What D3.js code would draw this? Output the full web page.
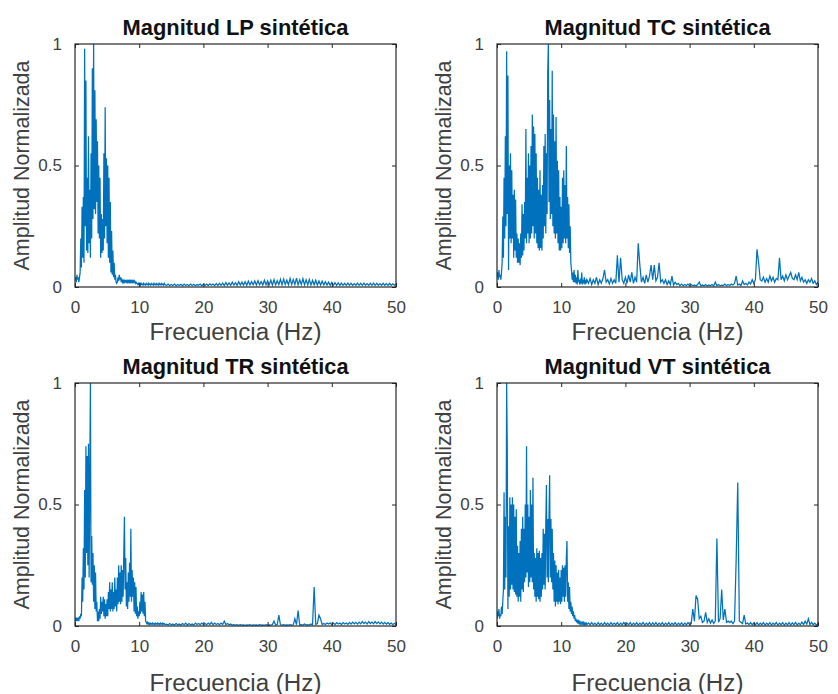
<!DOCTYPE html>
<html><head><meta charset="utf-8">
<script src="https://cdn.jsdelivr.net/npm/d3@7"></script>
<style>
body{margin:0;background:#fff;}
svg{display:block;}
text{font-family:"Liberation Sans",Arial,Helvetica,sans-serif;}
</style>
</head><body>
<svg id="c" width="838" height="694"></svg>
<script>
// ---------- data ----------
const DENSE_STEP = 0.1;   // Hz, samples 0..14 Hz
const DENSE_END = 14;
const TAIL_STEP = 0.25;   // Hz, samples 14.25..50 Hz
const xTicks = [0, 10, 20, 30, 40, 50];
const yTicks = [0, 0.5, 1];
const yTickLabels = ["0", "0.5", "1"];
const titles = ["Magnitud LP sintética", "Magnitud TC sintética", "Magnitud TR sintética", "Magnitud VT sintética"];
const xLabel = "Frecuencia (Hz)";
const yLabel = "Amplitud Normalizada";

const lpDense = [
 .03,.04,.02,.05,.03,.04,.02,.04,.06,.20,
 .08,.33,.12,.37,.10,.98,.25,.85,.15,.45,
 .14,.62,.18,.40,.12,.55,.20,.90,.28,1.0,
 .32,.81,.30,.69,.35,.60,.22,.50,.20,.45,
 .12,.30,.14,.28,.15,.55,.20,.74,.25,.53,
 .18,.50,.12,.45,.10,.35,.06,.23,.05,.15,
 .04,.10,.03,.05,.02,.015,.02,.04,.025,.05,
 .03,.04,.02,.03,.02,.03,.015,.03,.02,.025,
 .02,.03,.015,.025,.02,.03,.015,.025,.02,.03,
 .015,.025,.02,.025,.015,.02,.015,.015,.01,.015,
 .01,.015,.008,.015,.01,.012,.008,.015,.01,.012,
 .008,.014,.01,.012,.008,.015,.01,.012,.008,.014,
 .01,.012,.008,.015,.01,.012,.008,.014,.01,.012,
 .008,.015,.01,.012,.008,.014,.01,.012,.008,.015,
 .01];
const lpTail = [
 .006,.012,.005,.01,.006,.012,.005,.01,
 .006,.011,.005,.012,.006,.01,.005,.012,
 .006,.011,.005,.01,.007,.012,.005,.011,
 .006,.012,.006,.013,.007,.012,.006,.014,
 .006,.015,.007,.016,.006,.018,.007,.017,
 .007,.02,.008,.018,.007,.022,.008,.02,
 .008,.022,.007,.024,.008,.022,.009,.025,
 .008,.026,.009,.022,.008,.028,.009,.025,
 .009,.028,.008,.03,.009,.026,.01,.032,
 .009,.033,.01,.028,.009,.035,.01,.031,
 .01,.036,.009,.03,.01,.034,.009,.03,
 .009,.031,.008,.027,.009,.028,.008,.025,
 .008,.024,.008,.022,.008,.02,.007,.019,
 .007,.018,.007,.017,.007,.016,.007,.015,
 .007,.016,.007,.015,.007,.014,.007,.016,
 .007,.015,.007,.016,.007,.014,.007,.015,
 .007,.016,.007,.015,.007,.014,.007,.015,
 .007,.014,.007,.015,.007,.013,.007,.012];

const tcDense = [
 .04,.06,.03,.07,.04,.05,.03,.06,.10,.29,
 .12,.45,.20,.62,.25,.97,.30,.87,.07,.50,
 .20,.55,.18,.48,.20,.38,.12,.40,.15,.36,
 .12,.22,.10,.20,.10,.18,.09,.22,.12,.34,
 .13,.30,.15,.35,.20,.65,.18,.45,.22,.55,
 .18,.50,.20,.58,.22,.71,.25,.66,.20,.63,
 .22,.55,.18,.45,.16,.40,.15,.48,.16,.38,
 .15,.42,.20,.58,.25,.63,.22,.55,.30,.88,
 1.0,.35,.77,.28,.65,.30,.89,.25,.71,.22,
 .60,.20,.70,.22,.52,.18,.48,.15,.37,.15,
 .33,.16,.45,.18,.48,.20,.42,.18,.58,.20,
 .37,.16,.34,.14,.25,.10,.07,.03,.06,.02,
 .07,.02,.05,.015,.04,.01,.07,.02,.03,.01,
 .035,.015,.06,.01,.03,.015,.04,.01,.03,.015,
 .03];
const tcTail = [
 .015,.035,.01,.03,.015,.04,.01,.03,
 .015,.035,.07,.02,.03,.012,.035,.015,
 .03,.015,.13,.02,.12,.03,.015,.04,
 .015,.05,.02,.06,.015,.04,.02,.18,
 .09,.02,.04,.015,.05,.02,.045,.09,
 .03,.09,.025,.04,.10,.02,.03,.015,
 .03,.01,.025,.01,.045,.008,.02,.01,
 .015,.006,.012,.005,.01,.006,.012,.005,
 .01,.005,.008,.004,.01,.02,.005,.008,
 .005,.01,.004,.008,.005,.01,.004,.02,
 .005,.01,.005,.008,.006,.012,.005,.01,
 .006,.012,.008,.015,.045,.008,.012,.006,
 .025,.01,.015,.008,.02,.012,.03,.015,
 .03,.155,.10,.03,.025,.04,.02,.035,
 .02,.045,.025,.04,.02,.035,.03,.12,
 .03,.045,.025,.05,.03,.045,.06,.035,
 .03,.05,.03,.06,.025,.04,.02,.03,
 .015,.03,.02,.035,.015,.025,.01,.02];

const trDense = [
 .02,.035,.02,.03,.025,.035,.02,.04,.03,.05,
 .04,.20,.10,.32,.15,.56,.20,.74,.30,.70,
 .25,.75,.20,.62,1.0,.18,.37,.17,.30,.10,
 .25,.07,.22,.06,.10,.02,.06,.02,.07,.03,
 .12,.05,.10,.06,.12,.04,.11,.03,.09,.04,
 .11,.04,.14,.07,.18,.06,.15,.07,.18,.06,
 .14,.07,.20,.08,.15,.06,.20,.09,.25,.10,
 .22,.09,.25,.10,.23,.12,.30,.45,.15,.28,
 .08,.18,.07,.22,.10,.26,.12,.40,.10,.23,
 .12,.20,.06,.18,.05,.16,.04,.08,.03,.06,
 .04,.10,.05,.14,.06,.13,.05,.14,.04,.10,
 .02,.015,.01,.015,.008,.012,.006,.012,.008,.01,
 .006,.012,.008,.01,.006,.012,.008,.01,.006,.012,
 .008,.01,.006,.012,.008,.01,.006,.012,.008,.01,
 .006];
const trTail = [
 .008,.004,.01,.005,.008,.004,.01,.005,
 .008,.004,.01,.005,.012,.004,.01,.005,
 .008,.004,.012,.006,.01,.005,.012,.006,
 .01,.005,.012,.006,.015,.005,.012,.006,
 .01,.005,.012,.006,.02,.006,.01,.005,
 .008,.004,.006,.004,.006,.003,.006,.004,
 .005,.003,.005,.004,.006,.003,.005,.004,
 .005,.003,.006,.004,.005,.003,.006,.004,
 .005,.004,.006,.02,.004,.006,.045,.005,
 .004,.006,.004,.005,.004,.006,.004,.005,
 .03,.005,.063,.004,.006,.004,.008,.004,
 .006,.004,.008,.005,.16,.006,.01,.045,
 .03,.006,.01,.006,.012,.008,.012,.006,
 .012,.006,.014,.008,.012,.006,.014,.008,
 .012,.007,.015,.008,.016,.009,.015,.008,
 .016,.009,.018,.01,.016,.008,.018,.01,
 .016,.009,.018,.01,.017,.009,.016,.008,
 .015,.008,.014,.007,.012,.006,.01,.006];

const vtDense = [
 .03,.06,.04,.07,.03,.05,.04,.08,.05,.10,
 .15,.55,.15,.45,.20,1.0,.73,.07,.41,.12,
 .53,.15,.50,.17,.53,.15,.50,.14,.45,.13,
 .48,.12,.33,.10,.30,.12,.35,.10,.40,.15,
 .45,.14,.40,.18,.50,.20,.74,.22,.50,.16,
 .45,.18,.56,.20,.50,.18,.61,.15,.30,.12,
 .28,.10,.32,.12,.30,.11,.31,.10,.28,.12,
 .30,.15,.40,.17,.38,.15,.42,.58,.20,.44,
 .18,.45,.62,.20,.44,.18,.40,.15,.30,.10,
 .27,.08,.25,.10,.22,.09,.23,.10,.20,.09,
 .23,.10,.25,.12,.24,.10,.25,.12,.28,.35,
 .10,.18,.07,.16,.06,.10,.05,.08,.04,.06,
 .03,.045,.02,.03,.015,.025,.01,.02,.01,.018,
 .008,.015,.008,.014,.006,.014,.006,.012,.006,.012,
 .006];
const vtTail = [
 .012,.005,.014,.005,.012,.004,.014,.005,
 .012,.004,.014,.005,.012,.004,.014,.005,
 .012,.005,.014,.004,.012,.005,.015,.004,
 .012,.005,.014,.004,.012,.005,.014,.004,
 .012,.005,.015,.004,.012,.005,.014,.004,
 .013,.005,.014,.004,.012,.005,.014,.004,
 .012,.005,.014,.004,.012,.005,.014,.004,
 .012,.005,.013,.004,.012,.005,.014,.006,
 .01,.07,.02,.125,.11,.03,.04,.015,
 .02,.056,.015,.03,.012,.025,.01,.02,
 .36,.015,.03,.15,.025,.07,.015,.02,
 .015,.02,.01,.02,.27,.59,.02,.015,
 .01,.045,.008,.012,.006,.014,.005,.012,
 .005,.014,.004,.012,.005,.014,.004,.012,
 .005,.014,.004,.012,.005,.015,.004,.012,
 .005,.014,.004,.012,.005,.014,.004,.013,
 .005,.015,.004,.012,.005,.016,.006,.02,
 .008,.03,.006,.015,.005,.012,.004,.01];

// ---------- layout ----------
const W = 321, H = 243;
const panels = [
  {title: titles[0], dense: lpDense, tail: lpTail, x: 75,  y: 44,  xlabY: 331},
  {title: titles[1], dense: tcDense, tail: tcTail, x: 497, y: 44,  xlabY: 331},
  {title: titles[2], dense: trDense, tail: trTail, x: 75,  y: 383, xlabY: 682},
  {title: titles[3], dense: vtDense, tail: vtTail, x: 497, y: 383, xlabY: 682}
];
const LINE = "#0072BD", AXC = "#262626", TXT = "#404040";

function series(dense, tail) {
  const pts = dense.map((v, i) => [i * DENSE_STEP, v]);
  tail.forEach((v, i) => pts.push([DENSE_END + (i + 1) * TAIL_STEP, v]));
  return pts;
}
function fit(sel, target) {
  const fs = parseFloat(sel.attr("font-size"));
  const len = sel.node().getComputedTextLength();
  sel.attr("font-size", (fs * target / len).toFixed(2));
}

const svg = d3.select("#c");
const x = d3.scaleLinear().domain([0, 50]).range([0, W]);
const y = d3.scaleLinear().domain([0, 1]).range([H, 0]);

panels.forEach((p, k) => {
  const g = svg.append("g").attr("transform", `translate(${p.x},${p.y})`);
  g.append("clipPath").attr("id", "clip" + k)
    .append("rect").attr("x", 0).attr("y", -1).attr("width", W).attr("height", H + 2);

  const line = d3.line().x(d => x(d[0])).y(d => y(d[1]));
  g.append("path").datum(series(p.dense, p.tail))
    .attr("clip-path", `url(#clip${k})`)
    .attr("d", line).attr("fill", "none")
    .attr("stroke", LINE).attr("stroke-width", 1.25).attr("stroke-linejoin", "miter");

  // axes (ticks inside, MATLAB style box)
  const ax = [
    g.append("g").attr("transform", `translate(0,${H})`)
      .call(d3.axisBottom(x).tickValues(xTicks).tickSizeInner(-4).tickSizeOuter(0).tickPadding(14)),
    g.append("g")
      .call(d3.axisTop(x).tickValues(xTicks).tickSizeInner(-4).tickSizeOuter(0).tickFormat("")),
    g.append("g")
      .call(d3.axisLeft(y).tickValues(yTicks).tickFormat((d, i) => yTickLabels[i]).tickSizeInner(-4).tickSizeOuter(0).tickPadding(13)),
    g.append("g").attr("transform", `translate(${W},0)`)
      .call(d3.axisRight(y).tickValues(yTicks).tickSizeInner(-4).tickSizeOuter(0).tickFormat(""))
  ];
  ax.forEach(a => {
    a.select(".domain").remove();
    a.selectAll("line").attr("stroke", AXC);
    a.selectAll("text").attr("fill", TXT).attr("font-size", 17)
      .attr("font-family", '"Liberation Sans", Arial, sans-serif');
  });
  g.append("rect").attr("x", 0).attr("y", 0).attr("width", W).attr("height", H)
    .attr("fill", "none").attr("stroke", AXC).attr("stroke-width", 1.2);

  // title
  const t = g.append("text").attr("x", W / 2).attr("y", -9)
    .attr("text-anchor", "middle").attr("font-weight", "bold")
    .attr("font-size", 20).attr("fill", "#111").text(p.title);
  fit(t, 226);

  // x label
  const xl = svg.append("text").attr("x", p.x + W / 2).attr("y", p.xlabY)
    .attr("text-anchor", "middle").attr("dominant-baseline", "central")
    .attr("font-size", 20).attr("fill", TXT).text(xLabel);
  fit(xl, 172);

  // y label
  const yl = svg.append("text")
    .attr("transform", `translate(${p.x - 53},${p.y + H / 2}) rotate(-90)`)
    .attr("text-anchor", "middle").attr("dominant-baseline", "central")
    .attr("font-size", 20).attr("fill", TXT).text(yLabel);
  fit(yl, 210);
});
</script>
</body></html>
